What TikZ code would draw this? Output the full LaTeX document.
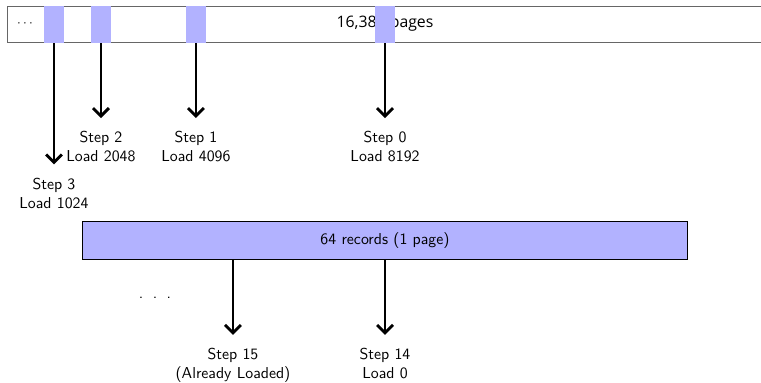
\documentclass[tikz,border=0pt]{standalone}
\usepackage{fontspec}
\newfontfamily\barfont{Open Sans}
\usetikzlibrary{positioning,arrows.meta}

\tikzset{
  seg/.style={fill=blue!30, draw=none, minimum width=0.445cm, minimum height=0.83cm, inner sep=0pt},
  lab/.style={align=center, font=\sffamily, anchor=north},
  arr/.style={-{Straight Barb[length=5pt,width=10pt]}, line width=1.8pt, shorten >=5pt},
}

\begin{document}
\begin{tikzpicture}
		\clip (0,0) rectangle (16.92,-8.515);
		% the file of pages
		\node (bar) [draw=black!60, semithick, fill=white, minimum width=16.81cm, minimum height=0.82cm, inner sep=0pt, anchor=west] at (0.156,-0.545) {};
		\node (dots) [font=\barfont\footnotesize] at (0.556,-0.534) {$\cdots$};
		\node (pages) [font=\barfont] at (8.56,-0.534) {16,384 pages};
		\node (s3) [seg] at (1.20,-0.545) {};
		\node (s2) [seg] at (2.245,-0.545) {};
		\node (s1) [seg] at (4.357,-0.545) {};
		\node (s0) [seg] at (8.56,-0.545) {};
		% steps of the search
		\node (l3) [lab] at (1.20,-3.83) {Step 3\\Load 1024};
		\node (l2) [lab] at (2.245,-2.80) {Step 2\\Load 2048};
		\node (l1) [lab] at (4.357,-2.80) {Step 1\\Load 4096};
		\node (l0) [lab] at (8.56,-2.80) {Step 0\\Load 8192};
		\foreach \n in {0,1,2,3}{
			\draw [arr] (s\n.south) -- (l\n.north);
		}
		% one page
		\node (rec) [draw, semithick, fill=blue!30, minimum width=13.47cm, minimum height=0.845cm, font=\sffamily] at (8.56,-5.357) {64 records (1 page)};
		\node (more) [font=\sffamily] at (3.446,-6.62) {.\hspace{6pt}.\hspace{6pt}.};
		\node (l15) [lab] at (5.18,-7.62) {Step 15\\(Already Loaded)};
		\node (l14) [lab] at (8.56,-7.62) {Step 14\\Load 0};
		\draw [arr] (l15.north |- rec.south) -- (l15.north);
		\draw [arr] (l14.north |- rec.south) -- (l14.north);
\end{tikzpicture}
\end{document}
